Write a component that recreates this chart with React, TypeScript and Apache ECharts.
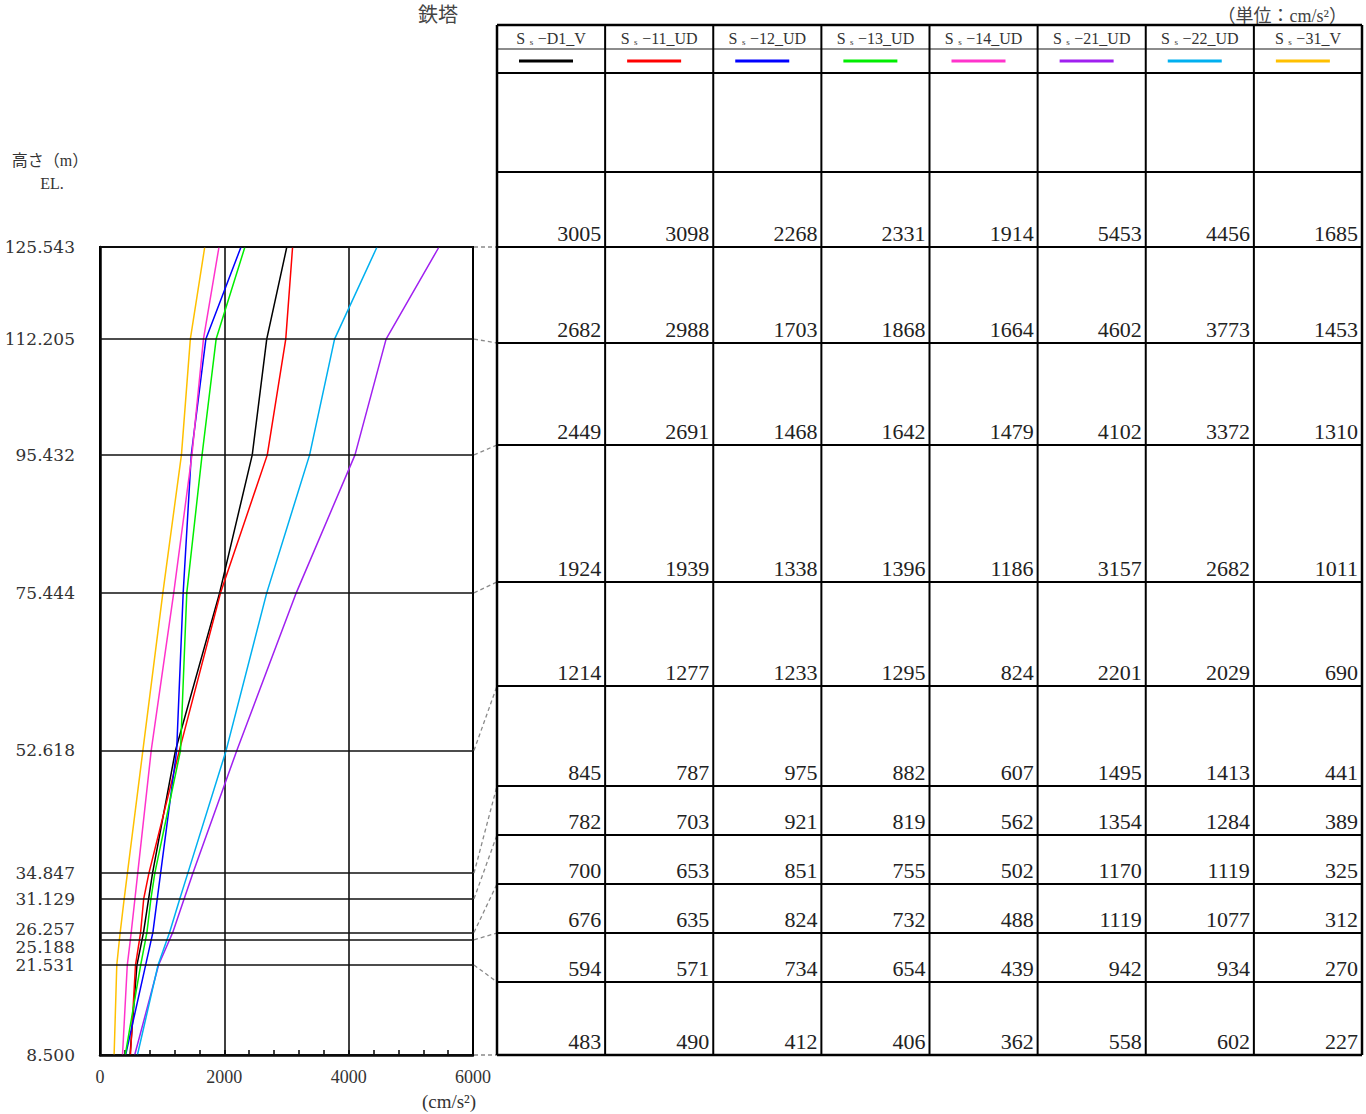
import React, { useEffect, useRef } from "react";
import * as echarts from "echarts";

// Elevation levels (m)
const ELEVATIONS = [125.543, 112.205, 95.432, 75.444, 52.618, 34.847, 31.129, 26.257, 25.188, 21.531, 8.5];

// Series names (suffix after "Ss−")
const SERIES_SUFFIX = ["D1_V", "11_UD", "12_UD", "13_UD", "14_UD", "21_UD", "22_UD", "31_V"];
const SERIES_COLORS = ["#000000", "#ff0000", "#0000ff", "#00ee00", "#ff33cc", "#a020f0", "#00b0f0", "#ffc000"];

// Values (cm/s^2) per elevation level, top to bottom
const SS_D1_V = [3005, 2682, 2449, 1924, 1214, 845, 782, 700, 676, 594, 483];
const SS_11_UD = [3098, 2988, 2691, 1939, 1277, 787, 703, 653, 635, 571, 490];
const SS_12_UD = [2268, 1703, 1468, 1338, 1233, 975, 921, 851, 824, 734, 412];
const SS_13_UD = [2331, 1868, 1642, 1396, 1295, 882, 819, 755, 732, 654, 406];
const SS_14_UD = [1914, 1664, 1479, 1186, 824, 607, 562, 502, 488, 439, 362];
const SS_21_UD = [5453, 4602, 4102, 3157, 2201, 1495, 1354, 1170, 1119, 942, 558];
const SS_22_UD = [4456, 3773, 3372, 2682, 2029, 1413, 1284, 1119, 1077, 934, 602];
const SS_31_V = [1685, 1453, 1310, 1011, 690, 441, 389, 325, 312, 270, 227];

const ALL_SERIES = [SS_D1_V, SS_11_UD, SS_12_UD, SS_13_UD, SS_14_UD, SS_21_UD, SS_22_UD, SS_31_V];

// X axis ticks
const X_MIN = 0;
const X_MAX = 6000;
const X_INTERVAL = 2000;

// Table layout (pixels)
const TABLE_LEFT = 497;
const TABLE_COL_W = 108.125;
const TABLE_TOP = 25;
const HEADER_SPLIT_Y = 49;
const LEGEND_BOTTOM_Y = 73;
const BLANK_ROW_BOTTOM_Y = 172;
const VALUE_ROW_Y = [247, 343, 445, 582, 686, 786, 835, 884, 933, 982, 1055];

const SERIF = "'Liberation Serif', 'DejaVu Serif', 'Noto Sans CJK JP', serif";
const WIDE_SERIF = "'DejaVu Serif', 'Liberation Serif', serif";
const CJK = "'Noto Sans CJK JP', sans-serif";

export default function App() {
  const ref = useRef<HTMLDivElement>(null);

  useEffect(() => {
    document.body.style.margin = "0";
    if (!ref.current) return;
    const chart = echarts.init(ref.current, undefined, { renderer: "svg" });

    const lineSeries = ALL_SERIES.map((vals, si) => ({
      name: "Ss−" + SERIES_SUFFIX[si],
      type: "line",
      z: 3,
      symbol: "none",
      silent: true,
      data: ELEVATIONS.map((e, i) => [vals[i], e]),
      lineStyle: { color: SERIES_COLORS[si], width: 1.5 },
      itemStyle: { color: SERIES_COLORS[si] },
    }));

    const yLabelStyle = { fontFamily: WIDE_SERIF, fontSize: 17, lineHeight: 16, color: "#333" };

    chart.setOption({
      animation: false,
      backgroundColor: "#ffffff",
      grid: {
        left: 100,
        right: 1366 - 473,
        top: 247,
        bottom: 1114 - 1055,
        show: true,
        borderColor: "#000",
        borderWidth: 2,
        backgroundColor: "transparent",
      },
      xAxis: {
        type: "value",
        min: X_MIN,
        max: X_MAX,
        interval: X_INTERVAL,
        axisLine: { show: true, lineStyle: { color: "#000", width: 2.5 } },
        axisTick: { show: true, inside: true, length: 5, lineStyle: { color: "#000", width: 1.5 } },
        minorTick: { show: true, splitNumber: 5, length: 5, lineStyle: { color: "#000", width: 1.5 } },
        splitLine: { show: true, lineStyle: { color: "#000", width: 1.5 } },
        axisLabel: {
          fontFamily: SERIF,
          fontSize: 18,
          color: "#333",
          margin: 13,
          formatter: (v: number) => String(v),
        },
      },
      yAxis: {
        type: "value",
        min: 8.5,
        max: 125.543,
        axisLine: { show: true, lineStyle: { color: "#000", width: 2.5 } },
        axisTick: { show: false },
        splitLine: { show: false },
        axisLabel: {
          customValues: ELEVATIONS,
          ...yLabelStyle,
          margin: 25,
          formatter: (v: number) => {
            const s = v.toFixed(3);
            if (v === 25.188) return "{low|" + s + "}";
            if (v === 26.257) return "{high|" + s + "}";
            return s;
          },
          rich: {
            low: { ...yLabelStyle, padding: [14, 0, 0, 0] },
            high: { ...yLabelStyle, padding: [0, 0, 6, 0] },
          },
        },
      },
      series: [
        {
          name: "levels",
          type: "line",
          z: 1,
          symbol: "none",
          silent: true,
          data: [],
          markLine: {
            silent: true,
            symbol: ["none", "none"],
            label: { show: false },
            lineStyle: { color: "#111", width: 1.5, type: "solid" },
            data: ELEVATIONS.map((e) => ({ yAxis: e })),
          },
        },
        ...lineSeries,
      ],
    });

    // Build table + connectors with graphic elements
    const g: any[] = [];
    const nCols = SERIES_SUFFIX.length;
    const tableRight = TABLE_LEFT + TABLE_COL_W * nCols;
    const tableBottom = VALUE_ROW_Y[VALUE_ROW_Y.length - 1];

    // connectors from chart to table rows
    ELEVATIONS.forEach((e, i) => {
      const p = chart.convertToPixel({ gridIndex: 0 }, [X_MAX, e]) as number[];
      g.push({
        type: "line",
        z: 5,
        shape: { x1: p[0] + 1, y1: p[1], x2: TABLE_LEFT, y2: VALUE_ROW_Y[i] },
        style: { stroke: "#8a8a8a", lineWidth: 1.3, lineDash: [4, 3] },
      });
    });

    // horizontal table lines
    const hLines = [TABLE_TOP, HEADER_SPLIT_Y, LEGEND_BOTTOM_Y, BLANK_ROW_BOTTOM_Y, ...VALUE_ROW_Y];
    hLines.forEach((y) => {
      const isHeaderSplit = y === HEADER_SPLIT_Y;
      g.push({
        type: "line",
        z: 5,
        shape: { x1: TABLE_LEFT, y1: y, x2: tableRight, y2: y },
        style: {
          stroke: isHeaderSplit ? "#666" : "#000",
          lineWidth: y === TABLE_TOP || y === tableBottom ? 2.5 : isHeaderSplit ? 1.5 : 2,
        },
      });
    });
    // vertical table lines
    for (let c = 0; c <= nCols; c++) {
      const x = TABLE_LEFT + c * TABLE_COL_W;
      g.push({
        type: "line",
        z: 5,
        shape: { x1: x, y1: TABLE_TOP, x2: x, y2: tableBottom },
        style: { stroke: "#000", lineWidth: c === 0 || c === nCols ? 2.5 : 2 },
      });
    }

    // headers, legend swatches and values
    SERIES_SUFFIX.forEach((suf, c) => {
      const left = TABLE_LEFT + c * TABLE_COL_W;
      const right = left + TABLE_COL_W;
      const cx = left + TABLE_COL_W / 2;
      g.push({
        type: "text",
        z: 6,
        x: cx,
        y: 38,
        style: {
          text: "{a|S}{b|  s  }{a|−" + suf + "}",
          align: "center",
          verticalAlign: "middle",
          rich: {
            a: { fontFamily: SERIF, fontSize: 16, fill: "#333", color: "#333" },
            b: { fontFamily: SERIF, fontSize: 9, fill: "#333", color: "#333", padding: [7, 0, 0, 0] },
          },
        },
      });
      g.push({
        type: "line",
        z: 6,
        shape: { x1: left + 22, y1: 61, x2: left + 76, y2: 61 },
        style: { stroke: SERIES_COLORS[c], lineWidth: 3 },
      });
      ALL_SERIES[c].forEach((v, i) => {
        g.push({
          type: "text",
          z: 6,
          x: right - 4,
          y: VALUE_ROW_Y[i] - 14,
          style: {
            text: String(v),
            align: "right",
            verticalAlign: "middle",
            fontFamily: SERIF,
            fontSize: 22,
            fill: "#222",
          },
        });
      });
    });

    // titles and labels
    g.push({
      type: "text",
      x: 438,
      y: 13,
      style: { text: "鉄塔", align: "center", verticalAlign: "middle", fontFamily: CJK, fontSize: 20, fill: "#444" },
    });
    g.push({
      type: "text",
      x: 1347,
      y: 16,
      style: { text: "（単位：cm/s²）", align: "right", verticalAlign: "middle", fontFamily: SERIF, fontSize: 18, fill: "#444" },
    });
    g.push({
      type: "text",
      x: 50,
      y: 160,
      style: { text: "高さ（m）", align: "center", verticalAlign: "middle", fontFamily: SERIF, fontSize: 16, fill: "#333" },
    });
    g.push({
      type: "text",
      x: 52,
      y: 183,
      style: { text: "EL.", align: "center", verticalAlign: "middle", fontFamily: SERIF, fontSize: 16, fill: "#333" },
    });
    g.push({
      type: "text",
      x: 449,
      y: 1101,
      style: { text: "(cm/s²)", align: "center", verticalAlign: "middle", fontFamily: SERIF, fontSize: 19, fill: "#333" },
    });

    chart.setOption({ graphic: { elements: g } });

    return () => chart.dispose();
  }, []);

  return (
    <div
      ref={ref}
      style={{ position: "absolute", left: 0, top: 0, width: 1366, height: 1114, background: "#fff" }}
    />
  );
}
